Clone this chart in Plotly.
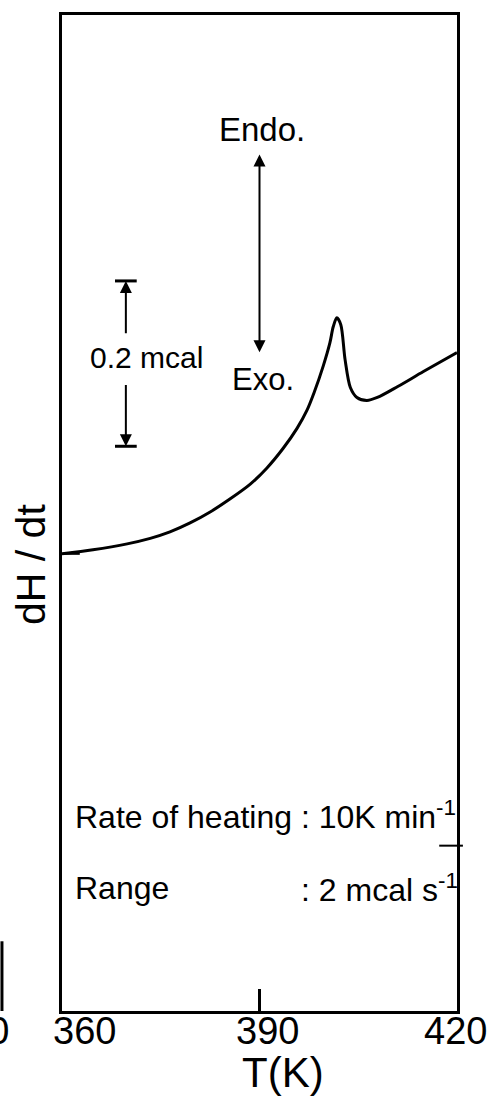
import plotly.graph_objects as go

# ---- data ----
temperature_K = [360.0, 364.7, 369.9, 373.4, 376.4, 379.45, 382.5, 385.5, 388.6, 391.1,
                 393.6, 395.7, 397.2, 398.3, 399.7, 400.7, 401.2, 401.75, 402.35, 403.0,
                 403.8, 404.8, 406.3, 407.9, 411.0, 414.9, 420.0]
dH_dt = [45.9, 46.3, 46.9, 47.45, 48.1, 49.0, 50.1, 51.4, 52.9, 54.5,
         56.5, 58.5, 60.3, 62.1, 64.8, 67.1, 68.7, 69.6, 68.9, 65.4,
         62.6, 61.6, 61.3, 61.6, 62.7, 64.2, 66.1]

x_ticks = [360, 390, 420]
x_tick_labels = ["360", "390", "420"]
x_tick_label_shift = [22, 8, -2]
x_range = [360, 420]
y_range = [0, 100]

# scale bar (0.2 mcal) and endo/exo arrow, in data units
scale_bar_x = 369.7
scale_bar_top = 73.3
scale_bar_bottom = 56.7
scale_bar_text_top = 67.9
scale_bar_text_bottom = 63.0
scale_bar_half_width = 1.65
endo_exo_x = 390.0
endo_head = 86.0
exo_head = 66.0

FONT = "Liberation Sans, Arial, sans-serif"
BLACK = "black"

fig = go.Figure()
fig.add_trace(go.Scatter(
    x=temperature_K, y=dH_dt, mode="lines",
    line=dict(color=BLACK, width=3, shape="spline", smoothing=0.85),
    hoverinfo="skip", showlegend=False))

annotations = [
    dict(text="Endo.", x=390.4, y=88.5, xref="x", yref="y", showarrow=False,
         xanchor="center", yanchor="middle", font=dict(size=33)),
    dict(text="Exo.", x=390.5, y=63.4, xref="x", yref="y", showarrow=False,
         xanchor="center", yanchor="middle", font=dict(size=31)),
    dict(text="0.2 mcal", x=372.9, y=65.6, xref="x", yref="y", showarrow=False,
         xanchor="center", yanchor="middle", font=dict(size=30)),
    # double headed endo / exo arrow
    dict(text="", x=endo_exo_x, y=endo_head, ax=endo_exo_x, ay=exo_head,
         xref="x", yref="y", axref="x", ayref="y", showarrow=True,
         arrowhead=2, arrowsize=1.2, arrowwidth=2, arrowside="end+start",
         arrowcolor=BLACK),
    # scale bar arrows
    dict(text="", x=scale_bar_x, y=scale_bar_top, ax=scale_bar_x, ay=scale_bar_text_top,
         xref="x", yref="y", axref="x", ayref="y", showarrow=True,
         arrowhead=2, arrowsize=1.2, arrowwidth=2, arrowcolor=BLACK),
    dict(text="", x=scale_bar_x, y=scale_bar_bottom, ax=scale_bar_x, ay=scale_bar_text_bottom,
         xref="x", yref="y", axref="x", ayref="y", showarrow=True,
         arrowhead=2, arrowsize=1.2, arrowwidth=2, arrowcolor=BLACK),
    dict(text="Rate of heating : 10K min<sup>-1</sup>", x=0.027, y=19.7, xref="paper", yref="y",
         xanchor="left", yanchor="middle", showarrow=False, font=dict(size=32)),
    dict(text="Range", x=0.027, y=12.4, xref="paper", yref="y",
         xanchor="left", yanchor="middle", showarrow=False, font=dict(size=32)),
    dict(text=": 2 mcal s<sup>-1</sup>", x=0.6, y=12.4, xref="paper", yref="y",
         xanchor="left", yanchor="middle", showarrow=False, font=dict(size=32)),
    dict(text="dH / dt", x=-0.078, y=44.8, xref="paper", yref="y", textangle=-90,
         xanchor="center", yanchor="middle", showarrow=False, font=dict(size=41)),
    dict(text="T(K)", x=0.5595, y=-0.062, xref="paper", yref="paper",
         xanchor="center", yanchor="middle", showarrow=False, font=dict(size=42)),
    dict(text="330", x=-0.13, y=-0.02, xref="paper", yref="paper", xanchor="right",
         yanchor="middle", showarrow=False, font=dict(size=38)),
]
for tv, tl, sh in zip(x_ticks, x_tick_labels, x_tick_label_shift):
    annotations.append(dict(text=tl, x=tv, y=-0.02, xref="x", yref="paper",
                            xanchor="center", yanchor="middle", xshift=sh,
                            showarrow=False, font=dict(size=38)))

shapes = [
    dict(type="line", xref="x", yref="y",
         x0=scale_bar_x - scale_bar_half_width, x1=scale_bar_x + scale_bar_half_width,
         y0=scale_bar_top, y1=scale_bar_top, line=dict(color=BLACK, width=3)),
    dict(type="line", xref="x", yref="y",
         x0=scale_bar_x - scale_bar_half_width, x1=scale_bar_x + scale_bar_half_width,
         y0=scale_bar_bottom, y1=scale_bar_bottom, line=dict(color=BLACK, width=3)),
    # small marker ticks on the frame
    dict(type="line", xref="paper", yref="y", x0=0, x1=0.045, y0=45.9, y1=45.9,
         line=dict(color=BLACK, width=2)),
    dict(type="line", xref="paper", yref="y", x0=0.955, x1=1.015, y0=16.6, y1=16.6,
         line=dict(color=BLACK, width=2)),
    # edge of neighbouring panel
    dict(type="line", xref="paper", yref="paper", x0=-0.152, x1=-0.152, y0=0.0, y1=0.07,
         line=dict(color=BLACK, width=3)),
]

fig.update_layout(
    width=495, height=1099,
    margin=dict(l=62, r=38, t=12, b=88),
    paper_bgcolor="white", plot_bgcolor="white",
    font=dict(family=FONT, color=BLACK),
    annotations=annotations, shapes=shapes,
    showlegend=False,
)
fig.update_xaxes(range=x_range, tickvals=x_ticks, showticklabels=False,
                 ticks="inside", ticklen=22, tickwidth=2.5, tickcolor=BLACK,
                 showline=True, linewidth=3, linecolor=BLACK, mirror=True,
                 showgrid=False, zeroline=False)
fig.update_yaxes(range=y_range, showticklabels=False, ticks="",
                 showline=True, linewidth=3, linecolor=BLACK, mirror=True,
                 showgrid=False, zeroline=False)

fig.write_html("out.html", config={"displayModeBar": False},
               post_script="document.body.style.margin='0px';document.body.style.overflow='hidden';")
